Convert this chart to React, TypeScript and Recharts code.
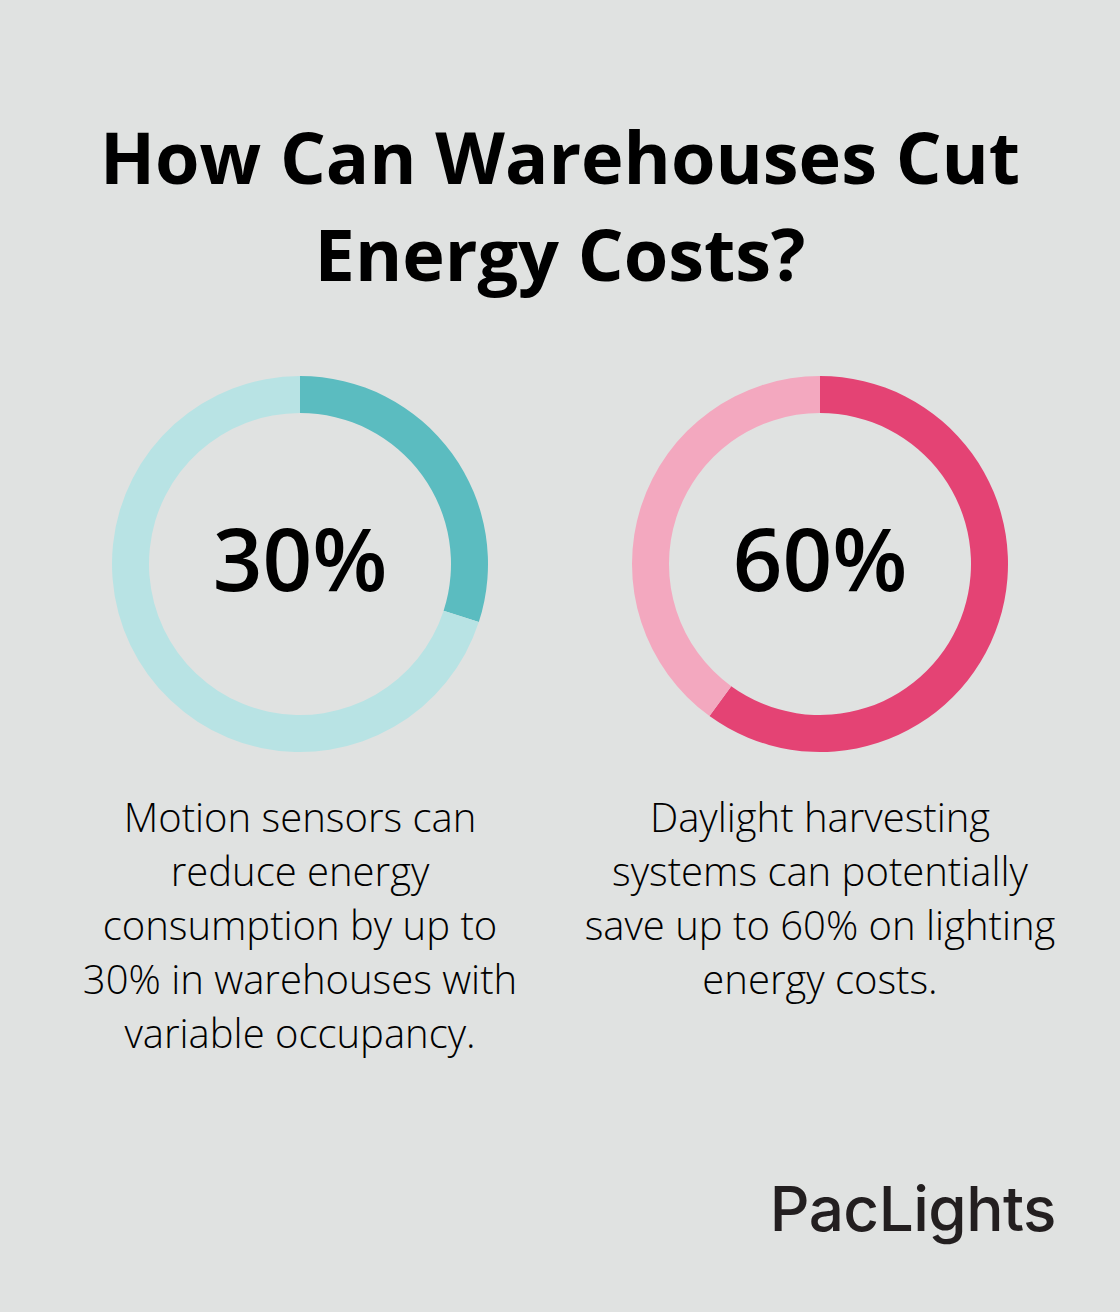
import React from 'react'
import { PieChart, Pie, Cell } from 'recharts';

const segments = ['Saved', 'Remaining'];
const motionValues = [30, 70];
const daylightValues = [60, 40];
const centerLabels = ['30%', '60%'];
const motionColors = ['#5bbcc0', '#b8e3e4'];
const daylightColors = ['#e44374', '#f3a8bf'];

const motionData = segments.map((name, i) => ({ name, value: motionValues[i] }));
const daylightData = segments.map((name, i) => ({ name, value: daylightValues[i] }));

const font = '"Open Sans", "Noto Sans", sans-serif';

const centerStyle: React.CSSProperties = {
    position: 'absolute', top: 497, width: 400, textAlign: 'center', fontFamily: font,
    fontSize: 87, fontWeight: 550, lineHeight: '120px', color: '#000',
};
const bodyStyle: React.CSSProperties = {
    position: 'absolute', top: 790, textAlign: 'center', fontFamily: font,
    fontWeight: 300, fontSize: 40, lineHeight: '54px', color: '#000',
};

const App: React.FC = () => {
    return (
        <div style={{ position: 'absolute', left: 0, top: 0, width: 1120, height: 1312, background: '#e0e2e1', overflow: 'hidden' }}>
            <PieChart width={1120} height={1312} margin={{ top: 0, right: 0, bottom: 0, left: 0 }} style={{ position: 'absolute', left: 0, top: 0 }}>
                <Pie data={motionData} dataKey="value" cx={300} cy={564} innerRadius={151} outerRadius={188}
                    startAngle={90} endAngle={-270} stroke="none" isAnimationActive={false}>
                    {motionData.map((d, i) => <Cell key={d.name} fill={motionColors[i]} />)}
                </Pie>
                <Pie data={daylightData} dataKey="value" cx={820} cy={564} innerRadius={151} outerRadius={188}
                    startAngle={90} endAngle={-270} stroke="none" isAnimationActive={false}>
                    {daylightData.map((d, i) => <Cell key={d.name} fill={daylightColors[i]} />)}
                </Pie>
            </PieChart>
            <div style={{ ...centerStyle, left: 100 }}>{centerLabels[0]}</div>
            <div style={{ ...centerStyle, left: 620 }}>{centerLabels[1]}</div>
            <div style={{ position: 'absolute', left: 0, top: 108, width: 1120, textAlign: 'center', fontFamily: font, fontWeight: 700, fontSize: 72, lineHeight: '97px', color: '#000' }}>
                How Can Warehouses Cut<br />Energy Costs?
            </div>
            <div style={{ ...bodyStyle, left: 40, width: 520 }}>
                Motion sensors can<br />reduce energy<br />consumption by up to<br />30% in warehouses with<br />variable occupancy.
            </div>
            <div style={{ ...bodyStyle, left: 560, width: 520 }}>
                Daylight harvesting<br />systems can potentially<br />save up to 60% on lighting<br />energy costs.
            </div>
            <div style={{ position: 'absolute', right: 64, top: 1171, fontFamily: 'Inter, sans-serif', fontWeight: 500, fontSize: 62, letterSpacing: -0.5, color: '#231f20' }}>
                PacLights
            </div>
        </div>
    )
}

export default App
